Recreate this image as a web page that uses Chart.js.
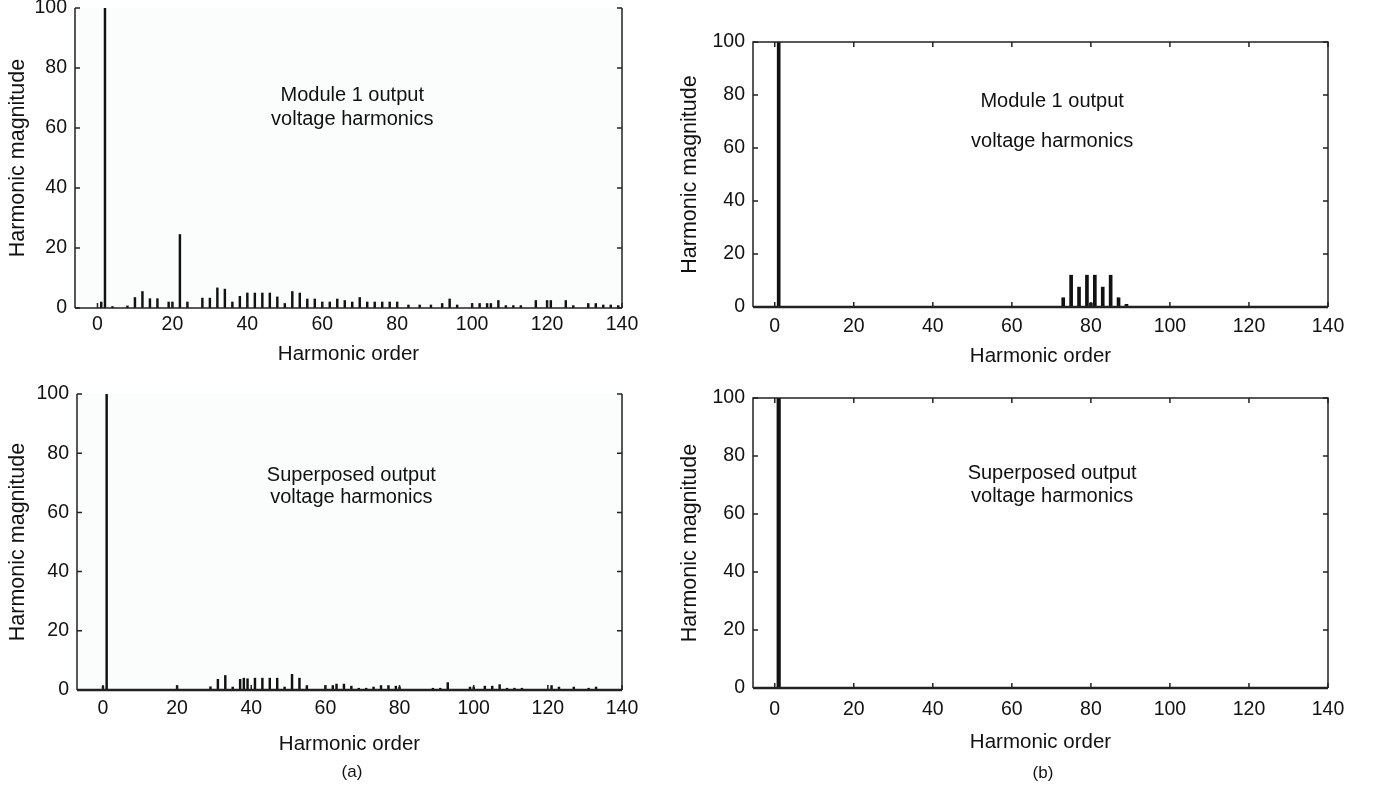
<!DOCTYPE html>
<html>
<head>
<meta charset="utf-8">
<script src="https://cdn.jsdelivr.net/npm/chart.js@4.4.0/dist/chart.umd.min.js"></script>
<style>
body{margin:0;background:#fff;width:1377px;height:791px;overflow:hidden;position:relative;font-family:"Liberation Sans",Arial,sans-serif;color:#111}
canvas{position:absolute;left:0;top:0}
.cap{position:absolute;font-size:17px;transform:translateX(-50%)}
</style>
</head>
<body>
<canvas id="a1" width="1377" height="791"></canvas>
<canvas id="a2" width="1377" height="791"></canvas>
<canvas id="b1" width="1377" height="791"></canvas>
<canvas id="b2" width="1377" height="791"></canvas>
<div class="cap" style="left:352px;top:762px">(a)</div>
<div class="cap" style="left:1043px;top:763px">(b)</div>
<script>
// tick labels
const xTicks = [0, 20, 40, 60, 80, 100, 120, 140];
const yTicks = [0, 20, 40, 60, 80, 100];

// (a) module 1 output voltage harmonics
const a1Order = [1, 2, 4, 8, 10, 12, 14, 16, 19, 20,
                 22, 24, 28, 30, 32, 34, 36, 38, 40, 42,
                 44, 46, 48, 50, 52, 54, 56, 58, 60, 62,
                 64, 66, 68, 70, 72, 74, 76, 78, 80, 83,
                 86, 89, 92, 94, 96, 100, 102, 104, 105, 107,
                 109, 111, 113, 117, 120, 121, 125, 127, 131, 133,
                 135, 137, 139];
const a1Mag = [2, 100, 0.5, 0.7, 3.5, 5.5, 3.1, 3.1, 2, 2,
               24.5, 2, 3.3, 3.3, 6.7, 6.3, 2, 3.9, 5, 5,
               5, 5, 3.7, 1.5, 5.5, 5, 3, 3, 2, 2,
               3, 2.5, 2, 3.5, 2, 2, 2, 2, 2, 1,
               1, 1, 1.5, 3, 1, 1.5, 1.5, 1.5, 1.5, 2.5,
               0.8, 0.8, 0.8, 2.5, 2.5, 2.5, 2.5, 0.8, 1.5, 1.5,
               1, 1, 0.8];

// (a) superposed output voltage harmonics
const a2Order = [0, 1, 20, 29, 31, 33, 35, 37, 38, 39,
                 41, 43, 45, 47, 49, 51, 53, 55, 60, 62,
                 63, 65, 67, 69, 71, 73, 75, 77, 79, 80,
                 89, 91, 93, 99, 100, 103, 105, 107, 109, 111,
                 113, 121, 123, 127, 131, 133];
const a2Mag = [1.3, 100, 1.5, 1.1, 3.6, 4.9, 1, 3.6, 4, 3.8,
               4, 4, 4, 4, 1, 5.3, 4, 1.5, 1.5, 1.5,
               2, 2, 1.3, 0.6, 0.6, 1, 1.5, 1.5, 1.3, 1,
               0.6, 0.6, 2.5, 1, 1, 1.3, 1.3, 1.8, 0.6, 0.6,
               0.6, 1.5, 1, 1, 0.6, 1];

// (b) module 1 output voltage harmonics
const b1Order = [1, 73, 75, 77, 79, 80, 81, 83, 85, 87, 89];
const b1Mag = [100, 3.5, 12, 7.5, 12, 1.5, 12, 7.5, 12, 3.5, 1];

// (b) superposed output voltage harmonics
const b2Order = [1];
const b2Mag = [100];

const FONT = '"Liberation Sans", Arial, sans-serif';

const framePlugin = {
    id: 'frame',
    beforeDraw(chart, args, o){
        if(!o.fill) return;
        const {ctx, chartArea: a} = chart;
        ctx.save();
        ctx.fillStyle = o.fill;
        ctx.fillRect(a.left, a.top, a.right - a.left, a.bottom - a.top);
        ctx.restore();
    },
    afterDraw(chart, args, o){
        const {ctx, chartArea: a, scales} = chart;
        ctx.save();
        ctx.strokeStyle = '#222';
        ctx.lineWidth = 1.5;
        // inward tick marks
        ctx.beginPath();
        scales.y.ticks.forEach(t => {
            const py = scales.y.getPixelForValue(t.value);
            ctx.moveTo(a.left, py); ctx.lineTo(a.left + 5, py);
            ctx.moveTo(a.right, py); ctx.lineTo(a.right - 5, py);
        });
        scales.x.ticks.forEach(t => {
            const px = scales.x.getPixelForValue(t.value);
            ctx.moveTo(px, a.bottom); ctx.lineTo(px, a.bottom - 5);
            if(o.top){ ctx.moveTo(px, a.top); ctx.lineTo(px, a.top + 5); }
        });
        ctx.stroke();
        // box
        ctx.beginPath();
        if(o.top){
            ctx.moveTo(a.left, a.bottom); ctx.lineTo(a.left, a.top);
            ctx.lineTo(a.right, a.top); ctx.lineTo(a.right, a.bottom);
        } else {
            ctx.moveTo(a.left, a.top); ctx.lineTo(a.left, a.bottom);
            ctx.moveTo(a.right, a.top); ctx.lineTo(a.right, a.bottom);
        }
        ctx.stroke();
        ctx.lineWidth = o.baseWidth || 1.5;
        ctx.beginPath();
        ctx.moveTo(a.left, a.bottom); ctx.lineTo(a.right, a.bottom);
        ctx.stroke();
        // note text
        ctx.fillStyle = '#111';
        ctx.font = '20px ' + FONT;
        ctx.textAlign = 'center';
        ctx.textBaseline = 'middle';
        const nx = scales.x.getPixelForValue(o.note.x);
        o.note.lines.forEach((line, i) => {
            ctx.fillText(line, nx, scales.y.getPixelForValue(o.note.y[i]));
        });
        ctx.restore();
    }
};

function makePanel(id, order, mag, p){
    const points = order.map((x, i) => ({x: x, y: mag[i]}));
    new Chart(document.getElementById(id), {
        type: 'bar',
        data: {
            datasets: [{
                data: points,
                backgroundColor: '#111',
                barThickness: p.bar,
                grouped: false
            }]
        },
        options: {
            responsive: false,
            animation: false,
            events: [],
            layout: {
                padding: {
                    left: p.yLeft,
                    top: p.plot.t,
                    right: 1377 - p.plot.r,
                    bottom: 791 - p.plot.b - p.xH
                }
            },
            plugins: {
                legend: {display: false},
                tooltip: {enabled: false},
                frame: {top: p.top, fill: p.fill, note: p.note, baseWidth: p.baseWidth}
            },
            scales: {
                x: {
                    type: 'linear',
                    min: p.xMin,
                    max: 140,
                    offset: false,
                    grid: {display: false, drawTicks: false, tickLength: 0},
                    border: {display: false},
                    afterBuildTicks: s => { s.ticks = xTicks.map(v => ({value: v})); },
                    afterFit: s => { s.height = p.xH; s.paddingLeft = 0; s.paddingRight = 0; },
                    ticks: {color: '#111', padding: p.labelPad, maxRotation: 0, font: {family: FONT, size: 19.5}},
                    title: {display: true, text: 'Harmonic order', color: '#111', font: {family: FONT, size: 20.5}}
                },
                y: {
                    min: 0,
                    max: 100,
                    grid: {display: false, drawTicks: false, tickLength: 0},
                    border: {display: false},
                    afterBuildTicks: s => { s.ticks = yTicks.map(v => ({value: v})); },
                    afterFit: s => { s.width = p.plot.l - p.yLeft; s.paddingTop = 0; s.paddingBottom = 0; },
                    ticks: {color: '#111', padding: 8, font: {family: FONT, size: 19.5}},
                    title: {display: true, text: 'Harmonic magnitude', color: '#111', font: {family: FONT, size: 21.5}}
                }
            }
        },
        plugins: [framePlugin]
    });
}

makePanel('a1', a1Order, a1Mag, {
    plot: {l: 75, t: 8, r: 622, b: 308}, xMin: -6, yLeft: 1, xH: 63, labelPad: 5,
    bar: 1.8, top: false, fill: '#fbfdfd',
    note: {x: 68, y: [71, 62.7], lines: ['Module 1 output', 'voltage harmonics']}
});
makePanel('a2', a2Order, a2Mag, {
    plot: {l: 77, t: 394, r: 622, b: 690}, xMin: -7, yLeft: 1, xH: 71, labelPad: 7,
    bar: 1.8, top: false, fill: '#fbfdfd', baseWidth: 2.5,
    note: {x: 67, y: [72.6, 64.9], lines: ['Superposed output', 'voltage harmonics']}
});
makePanel('b1', b1Order, b1Mag, {
    plot: {l: 753, t: 42, r: 1328, b: 307}, xMin: -5.5, yLeft: 673, xH: 66, labelPad: 8,
    bar: 3, top: true, baseWidth: 2.5,
    note: {x: 70.2, y: [77.4, 62.3], lines: ['Module 1 output', 'voltage harmonics']}
});
makePanel('b2', b2Order, b2Mag, {
    plot: {l: 753, t: 398, r: 1328, b: 688}, xMin: -5.5, yLeft: 673, xH: 71, labelPad: 10,
    bar: 3.5, top: true, baseWidth: 2.5,
    note: {x: 70.2, y: [73.8, 65.9], lines: ['Superposed output', 'voltage harmonics']}
});
</script>
</body>
</html>
